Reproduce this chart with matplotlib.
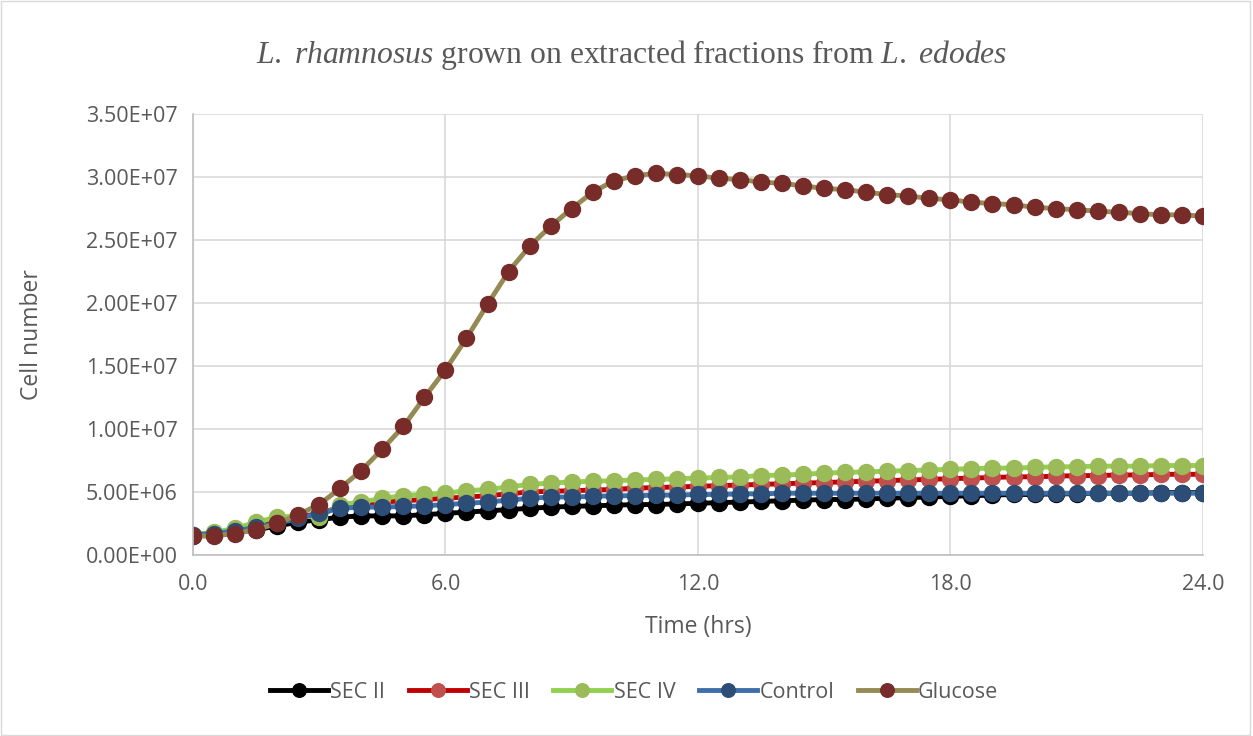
import numpy as np
import matplotlib
matplotlib.use("Agg")
import matplotlib.pyplot as plt
from matplotlib.patches import Rectangle

time_hrs = [i * 0.5 for i in range(49)]

sec_ii = [1.5, 1.6, 1.8, 2.0, 2.3, 2.6, 2.8, 3.0, 3.1, 3.1, 3.1, 3.2, 3.3, 3.4, 3.5, 3.6,
          3.7, 3.8, 3.85, 3.9, 3.95, 4.0, 4.0, 4.05, 4.1, 4.15, 4.2, 4.25, 4.3, 4.35, 4.4, 4.4,
          4.45, 4.5, 4.55, 4.6, 4.65, 4.7, 4.75, 4.8, 4.8, 4.85, 4.85, 4.9, 4.9, 4.9, 4.95, 4.95, 4.95]
sec_iii = [1.6, 1.7, 1.9, 2.3, 2.7, 3.0, 3.3, 3.8, 4.0, 4.2, 4.3, 4.4, 4.5, 4.6, 4.7, 4.85,
           5.0, 5.05, 5.1, 5.15, 5.2, 5.3, 5.35, 5.4, 5.45, 5.5, 5.55, 5.6, 5.65, 5.7, 5.75, 5.8,
           5.85, 5.9, 5.95, 6.0, 6.05, 6.1, 6.15, 6.2, 6.2, 6.25, 6.3, 6.3, 6.35, 6.35, 6.4, 6.4, 6.4]
sec_iv = [1.6, 1.8, 2.1, 2.6, 3.0, 3.1, 3.0, 4.0, 4.2, 4.5, 4.7, 4.8, 4.9, 5.1, 5.2, 5.4,
          5.6, 5.7, 5.8, 5.85, 5.9, 5.95, 6.0, 6.05, 6.1, 6.15, 6.2, 6.3, 6.35, 6.4, 6.5, 6.55,
          6.6, 6.65, 6.7, 6.75, 6.8, 6.85, 6.9, 6.9, 6.95, 7.0, 7.0, 7.05, 7.05, 7.05, 7.1, 7.1, 7.1]
control = [1.6, 1.7, 1.9, 2.2, 2.5, 2.9, 3.3, 3.7, 3.8, 3.8, 3.85, 3.9, 4.0, 4.1, 4.2, 4.35,
           4.5, 4.6, 4.6, 4.65, 4.7, 4.7, 4.75, 4.75, 4.8, 4.8, 4.85, 4.85, 4.9, 4.9, 4.9, 4.9,
           4.9, 4.9, 4.9, 4.9, 4.9, 4.9, 4.9, 4.9, 4.9, 4.9, 4.9, 4.9, 4.9, 4.9, 4.9, 4.9, 4.9]
glucose = [1.5, 1.5, 1.7, 2.0, 2.5, 3.2, 4.0, 5.3, 6.7, 8.4, 10.2, 12.5, 14.7, 17.2, 19.9, 22.5,
           24.5, 26.1, 27.5, 28.8, 29.7, 30.1, 30.3, 30.2, 30.1, 29.9, 29.8, 29.6, 29.5, 29.3, 29.1, 29.0,
           28.8, 28.6, 28.5, 28.3, 28.2, 28.0, 27.9, 27.8, 27.6, 27.5, 27.4, 27.3, 27.2, 27.1, 27.0, 27.0, 26.9]

series = [
    ("SEC II", sec_ii, "#000000", "#000000"),
    ("SEC III", sec_iii, "#C00000", "#C0504D"),
    ("SEC IV", sec_iv, "#92D050", "#9BBB59"),
    ("Control", control, "#3F6FA8", "#2C4D75"),
    ("Glucose", glucose, "#948A54", "#772C2A"),
]

plt.rcParams['font.family'] = ['Open Sans', 'DejaVu Sans']
plt.rcParams['mathtext.fontset'] = 'custom'
plt.rcParams['mathtext.rm'] = 'Liberation Serif'
plt.rcParams['mathtext.it'] = 'Liberation Serif:italic'

TXT = "#595959"
fig = plt.figure(figsize=(12.53, 7.36), dpi=100)
fig.patches.append(Rectangle((0.001, 0.001), 0.997, 0.997, transform=fig.transFigure,
                             fill=False, edgecolor="#D9D9D9", linewidth=1))
ax = fig.add_axes([0.154, 0.246, 0.806, 0.599])

for name, vals, lc, mc in series:
    ax.plot(time_hrs, np.array(vals) * 1e6, color=lc, linewidth=3.5, marker='o',
            markersize=11.5, markerfacecolor=mc, markeredgecolor=mc, label=name)

ax.set_xlim(0, 24)
ax.set_ylim(0, 3.5e7)
ax.set_xticks([0, 6, 12, 18, 24])
ax.set_xticklabels([f"{v:.1f}" for v in [0, 6, 12, 18, 24]])
yt = np.arange(0, 3.5e7 + 1, 5e6)
ax.set_yticks(yt)
ax.set_yticklabels([f"{v:.2E}" for v in yt])
ax.grid(True, color="#D9D9D9", linewidth=1.2)
ax.set_axisbelow(True)
for s in ["top", "right"]:
    ax.spines[s].set_visible(False)
for s in ["left", "bottom"]:
    ax.spines[s].set_color("#BFBFBF")
    ax.spines[s].set_linewidth(1.2)
ax.tick_params(length=0, labelsize=15.5, labelcolor=TXT)
ax.tick_params(axis='y', pad=11)
ax.tick_params(axis='x', pad=14)

fig.text(698 / 1253, 1 - 627 / 736, "Time (hrs)", ha='center', va='center',
         fontsize=16.5, color=TXT)
fig.text(32 / 1253, 1 - 335 / 736, "Cell number", ha='center', va='center',
         rotation=90, fontsize=16.5, color=TXT)

fig.text(632 / 1253, 1 - 55 / 736,
         r"$\mathit{L.\ rhamnosus}$ grown on extracted fractions from $\mathit{L.\ edodes}$",
         ha='center', va='center', fontsize=22.8, color=TXT, family='Liberation Serif')

leg = fig.legend(loc='center', bbox_to_anchor=(634 / 1253, 1 - 692 / 736), ncol=5, frameon=False,
                 fontsize=15.5, handlelength=2.7, columnspacing=1.1, handletextpad=0.1,
                 markerscale=0.85)
for t in leg.get_texts():
    t.set_color(TXT)

fig.savefig("out.png", dpi=100)
